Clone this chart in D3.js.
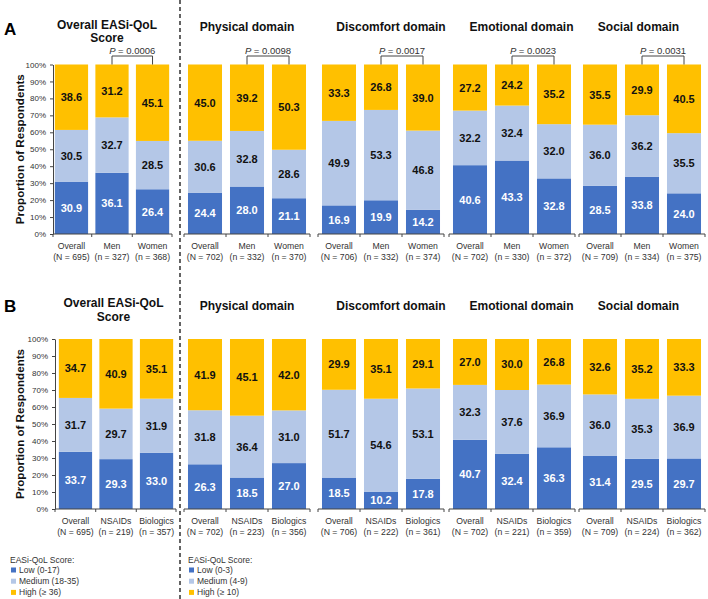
<!DOCTYPE html>
<html>
<head>
<meta charset="utf-8">
<script src="https://cdn.jsdelivr.net/npm/d3@7"></script>
<style>
  html, body { margin: 0; padding: 0; background: #fff; }
  svg { display: block; font-family: "Liberation Sans", Arial, Helvetica, sans-serif; }
</style>
</head>
<body>
<script>
// ---------------- DATA ----------------
const panelTitles = [["Overall EASi-QoL", "Score"], ["Physical domain"], ["Discomfort domain"], ["Emotional domain"], ["Social domain"]];
const levels = ["low", "medium", "high"];
const levelColors = ["#4472C4", "#B4C7E7", "#FFC000"];
const levelTextColors = ["#ffffff", "#111111", "#111111"];

const groupsA = ["Overall", "Men", "Women"];
const nA = [[695, 327, 368], [702, 332, 370], [706, 332, 374], [702, 330, 372], [709, 334, 375]];
const lowA = [[30.9, 36.1, 26.4], [24.4, 28.0, 21.1], [16.9, 19.9, 14.2], [40.6, 43.3, 32.8], [28.5, 33.8, 24.0]];
const mediumA = [[30.5, 32.7, 28.5], [30.6, 32.8, 28.6], [49.9, 53.3, 46.8], [32.2, 32.4, 32.0], [36.0, 36.2, 35.5]];
const highA = [[38.6, 31.2, 45.1], [45.0, 39.2, 50.3], [33.3, 26.8, 39.0], [27.2, 24.2, 35.2], [35.5, 29.9, 40.5]];
const pValuesA = ["0.0006", "0.0098", "0.0017", "0.0023", "0.0031"];

const groupsB = ["Overall", "NSAIDs", "Biologics"];
const nB = [[695, 219, 357], [702, 223, 356], [706, 222, 361], [702, 221, 359], [709, 224, 362]];
const lowB = [[33.7, 29.3, 33.0], [26.3, 18.5, 27.0], [18.5, 10.2, 17.8], [40.7, 32.4, 36.3], [31.4, 29.5, 29.7]];
const mediumB = [[31.7, 29.7, 31.9], [31.8, 36.4, 31.0], [51.7, 54.6, 53.1], [32.3, 37.6, 36.9], [36.0, 35.3, 36.9]];
const highB = [[34.7, 40.9, 35.1], [41.9, 45.1, 42.0], [29.9, 35.1, 29.1], [27.0, 30.0, 26.8], [32.6, 35.2, 33.3]];

const yTicks = [0, 0.1, 0.2, 0.3, 0.4, 0.5, 0.6, 0.7, 0.8, 0.9, 1.0];
const yAxisTitle = "Proportion of Respondents";
const legendTitle = "EASi-QoL Score:";
const legendOverall = ["Low (0-17)", "Medium (18-35)", "High (\u2265 36)"];
const legendDomain = ["Low (0-3)", "Medium (4-9)", "High (\u2265 10)"];

// ---------------- LAYOUT ----------------
const W = 708, H = 599;
const domainRanges = [[184, 310], [318, 444], [449, 575], [579, 705]];
const rows = [
  { label: "A", groups: groupsA, n: nA, low: lowA, medium: mediumA, high: highA, pvals: pValuesA,
    labelY: 35, yTop: 64.5, yBottom: 234, titleY: 28.5, firstRange: [52, 172], yAxisX: 53,
    titleCX: [107, 247, 391, 521.5, 638.5] },
  { label: "B", groups: groupsB, n: nB, low: lowB, medium: mediumB, high: highB, pvals: null,
    labelY: 312, yTop: 339, yBottom: 509, titleY: 307, firstRange: [56, 176], yAxisX: 55,
    titleCX: [113.5, 247, 391, 521.5, 638.5] }
];

const svg = d3.select("body").append("svg").attr("width", W).attr("height", H);
const axisColor = "#444";

// dashed separator
svg.append("line").attr("x1", 180).attr("x2", 180).attr("y1", 0).attr("y2", H)
  .attr("stroke", "#111").attr("stroke-width", 1.3).attr("stroke-dasharray", "4,3");

rows.forEach(row => {
  const y = d3.scaleLinear().domain([0, 1]).range([row.yBottom, row.yTop]);

  // panel letter
  svg.append("text").attr("x", 4).attr("y", row.labelY).text(row.label)
    .attr("font-size", 17).attr("font-weight", "bold").attr("fill", "#000");

  // y axis
  const yAxis = svg.append("g").attr("transform", `translate(${row.yAxisX},0)`)
    .call(d3.axisLeft(y).tickValues(yTicks).tickFormat(d3.format(".0%")).tickSize(3).tickSizeOuter(0).tickPadding(4));
  yAxis.selectAll("path, line").attr("stroke", axisColor);
  yAxis.selectAll("text").attr("font-size", 8).attr("fill", "#333").attr("font-family", "Liberation Sans, Arial, sans-serif");

  svg.append("text")
    .attr("transform", `translate(19,${(row.yTop + row.yBottom) / 2}) rotate(-90)`)
    .attr("text-anchor", "middle").attr("dominant-baseline", "central")
    .attr("font-size", 11.6).attr("font-weight", "bold").attr("fill", "#111")
    .text(yAxisTitle);

  panelTitles.forEach((title, p) => {
    const range = p === 0 ? row.firstRange : domainRanges[p - 1];
    const pi = p === 0 ? 0.18 : 0.19;
    const po = p === 0 ? 0.07 : 0.095;
    const x = d3.scaleBand().domain(row.groups).range(range).paddingInner(pi).paddingOuter(po);
    const bw = x.bandwidth();

    const records = row.groups.map((g, i) => ({
      group: g, low: row.low[p][i], medium: row.medium[p][i], high: row.high[p][i], n: row.n[p][i]
    }));
    const series = d3.stack().keys(levels).offset(d3.stackOffsetExpand)(records);

    const g = svg.append("g");
    series.forEach((s, li) => {
      g.selectAll(null).data(s).enter().append("rect")
        .attr("x", d => x(d.data.group))
        .attr("width", bw)
        .attr("y", d => y(d[1]))
        .attr("height", d => y(d[0]) - y(d[1]))
        .attr("fill", levelColors[li]);
      g.selectAll(null).data(s).enter().append("text")
        .attr("x", d => x(d.data.group) + bw / 2)
        .attr("y", d => y((d[0] + d[1]) / 2))
        .attr("dy", "0.36em")
        .attr("text-anchor", "middle")
        .attr("font-size", 11).attr("font-weight", "bold")
        .attr("fill", levelTextColors[li])
        .text(d => d3.format(".1f")(d.data[levels[li]]));
    });

    // x axis line with boundary ticks
    const x0 = p === 0 ? row.yAxisX : range[0];
    const bounds = [x0];
    for (let i = 1; i < row.groups.length; i++) {
      bounds.push((x(row.groups[i - 1]) + bw + x(row.groups[i])) / 2);
    }
    bounds.push(range[1]);
    g.append("line").attr("x1", x0).attr("x2", range[1]).attr("y1", row.yBottom).attr("y2", row.yBottom)
      .attr("stroke", axisColor).attr("stroke-width", 1);
    g.selectAll(null).data(bounds).enter().append("line")
      .attr("x1", d => d).attr("x2", d => d)
      .attr("y1", row.yBottom).attr("y2", row.yBottom + 3)
      .attr("stroke", axisColor).attr("stroke-width", 1);

    // category labels
    records.forEach((r, i) => {
      const cx = x(r.group) + bw / 2;
      g.append("text").attr("x", cx).attr("y", row.yBottom + 14.5)
        .attr("text-anchor", "middle").attr("font-size", 8.7).attr("fill", "#333").text(r.group);
      g.append("text").attr("x", cx).attr("y", row.yBottom + 25.5)
        .attr("text-anchor", "middle").attr("font-size", 8.7).attr("fill", "#333")
        .text(`(${i === 0 ? "N" : "n"} = ${r.n})`);
    });

    // titles
    title.forEach((line, li) => {
      g.append("text").attr("x", row.titleCX[p]).attr("y", row.titleY + (p === 0 ? 0 : 2.5) + li * 13.5)
        .attr("text-anchor", "middle").attr("font-size", 12).attr("font-weight", "bold")
        .attr("fill", "#111").text(line);
    });

    // p-value bracket
    if (row.pvals) {
      const xa = x(row.groups[1]) + bw / 2;
      const xb = x(row.groups[2]) + bw / 2;
      const by = row.yTop - 8.5;
      g.append("path")
        .attr("d", `M${xa},${row.yTop}V${by}H${xb}V${row.yTop}`)
        .attr("fill", "none").attr("stroke", axisColor).attr("stroke-width", 1);
      const t = g.append("text").attr("x", (xa + xb) / 2).attr("y", row.yTop - 11)
        .attr("text-anchor", "middle").attr("font-size", 9.5).attr("fill", "#333");
      t.append("tspan").attr("font-style", "italic").text("P");
      t.append("tspan").text(" = " + row.pvals[p]);
    }
  });
});

// legends
function drawLegend(lx, items) {
  const lg = svg.append("g");
  lg.append("text").attr("x", lx).attr("y", 563).attr("font-size", 8.5).attr("fill", "#333").text(legendTitle);
  items.forEach((txt, i) => {
    const cy = 570 + i * 11.2;
    lg.append("rect").attr("x", lx + 1).attr("y", cy - 2.5).attr("width", 5).attr("height", 5).attr("fill", levelColors[i]);
    lg.append("text").attr("x", lx + 9).attr("y", cy + 3).attr("font-size", 8.5).attr("fill", "#333").text(txt);
  });
}
drawLegend(10, legendOverall);
drawLegend(188, legendDomain);
</script>
</body>
</html>
